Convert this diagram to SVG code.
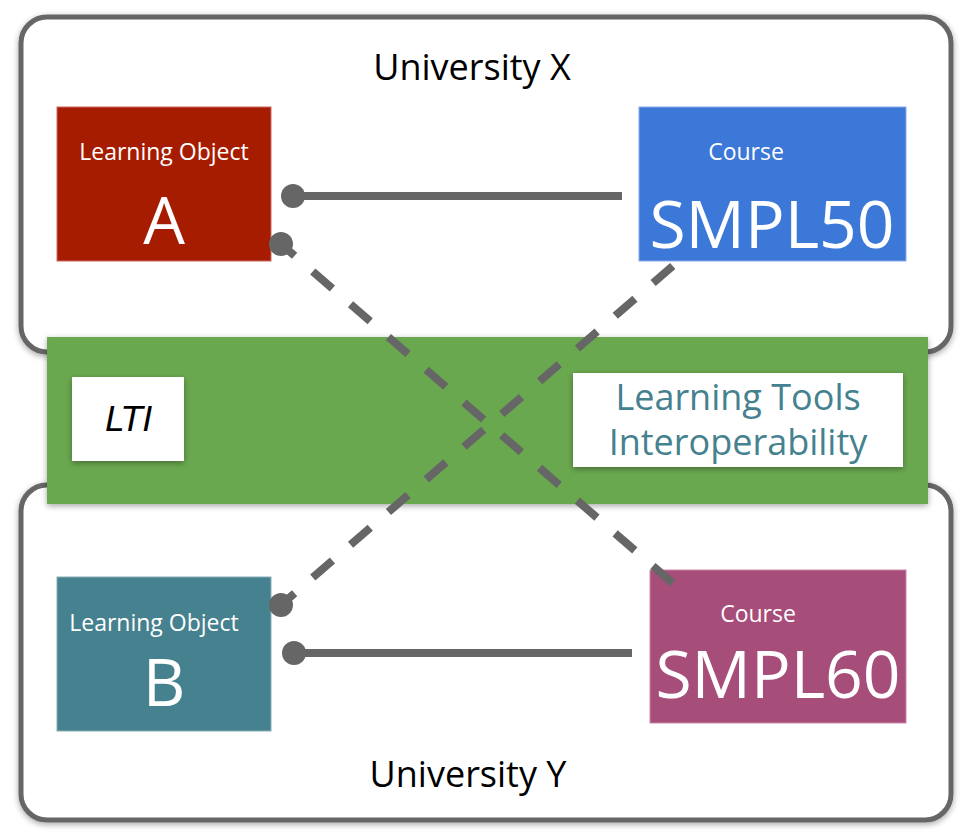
<svg xmlns="http://www.w3.org/2000/svg" width="980" height="840" viewBox="0 0 980 840">
  <defs>
    <filter id="shadow" x="-10%" y="-10%" width="120%" height="130%">
      <feGaussianBlur in="SourceAlpha" stdDeviation="3"/>
      <feOffset dx="0" dy="2" result="b"/>
      <feComponentTransfer><feFuncA type="linear" slope="0.35"/></feComponentTransfer>
      <feMerge><feMergeNode/><feMergeNode in="SourceGraphic"/></feMerge>
    </filter>
  </defs>
  <style>
    .outer { fill: #ffffff; stroke: #666666; stroke-width: 5; }
    .txt { font-family: "Open Sans", "Noto Sans", sans-serif; text-anchor: middle; }
    .title { font-size: 36px; fill: #000000; }
    .small { font-size: 23px; fill: #ffffff; }
    .big { font-size: 66px; fill: #ffffff; }
    .conn { stroke: #666666; stroke-width: 8; fill: none; }
    .dash { stroke-dasharray: 26 24; }
    .dot { fill: #666666; }
    .lti { font-size: 36px; fill: #45818e; }
  </style>

  <g id="university-x" filter="url(#shadow)">
    <rect class="outer" x="21" y="17" width="930" height="335" rx="26"/>
  </g>
  <g id="university-y" filter="url(#shadow)">
    <rect class="outer" x="21" y="485" width="930" height="335" rx="26"/>
  </g>
  <g id="university-x-label">
    <text class="txt title" x="472" y="80">University X</text>
  </g>
  <g id="university-y-label">
    <text class="txt title" x="468" y="787">University Y</text>
  </g>

  <g id="lti-band">
    <rect x="47" y="337" width="881" height="167" fill="#6aa84f" filter="url(#shadow)"/>
  </g>
  <g id="lti-logo">
    <rect x="72" y="377" width="112" height="84" fill="#ffffff" filter="url(#shadow)"/>
    <text x="129" y="431" font-family="DejaVu Sans, sans-serif" font-size="34" text-anchor="middle" fill="#000000" font-style="italic" font-weight="normal">LTI</text>
  </g>
  <g id="lti-name">
    <rect x="573" y="373" width="330" height="94" fill="#ffffff" filter="url(#shadow)"/>
    <text class="txt lti" x="738" y="410">Learning Tools</text>
    <text class="txt lti" x="738" y="455">Interoperability</text>
  </g>

  <g id="learning-object-a">
    <rect x="57" y="107" width="214" height="154" fill="#a61c00" stroke="#cc6666" stroke-width="1"/>
    <text class="txt small" x="164" y="160">Learning Object</text>
    <text class="txt big" x="164" y="244">A</text>
  </g>
  <g id="course-smpl50">
    <rect x="639" y="107" width="267" height="154" fill="#3c78d8" stroke="#88aaee" stroke-width="1"/>
    <text class="txt small" x="746" y="160">Course</text>
    <text class="txt big" x="772" y="248">SMPL50</text>
  </g>
  <g id="learning-object-b">
    <rect x="57" y="577" width="214" height="154" fill="#45818e" stroke="#88b0b8" stroke-width="1"/>
    <text class="txt small" x="154" y="631">Learning Object</text>
    <text class="txt big" x="164" y="706">B</text>
  </g>
  <g id="course-smpl60">
    <rect x="650" y="570" width="256" height="153" fill="#a64d79" stroke="#cc88aa" stroke-width="1"/>
    <text class="txt small" x="758" y="622">Course</text>
    <text class="txt big" x="778" y="698">SMPL60</text>
  </g>

  <g id="connectors">
    <line class="conn" x1="293" y1="196" x2="622" y2="196"/>
    <circle class="dot" cx="293" cy="196" r="12"/>
    <line class="conn" x1="294" y1="653" x2="632" y2="653"/>
    <circle class="dot" cx="294" cy="653" r="12"/>
    <line class="conn dash" x1="281" y1="244" x2="684" y2="593" stroke-dashoffset="8"/>
    <circle class="dot" cx="281" cy="244" r="12"/>
    <line class="conn dash" x1="281" y1="605" x2="674" y2="265" stroke-dashoffset="8"/>
    <circle class="dot" cx="281" cy="605" r="12"/>
  </g>
</svg>
